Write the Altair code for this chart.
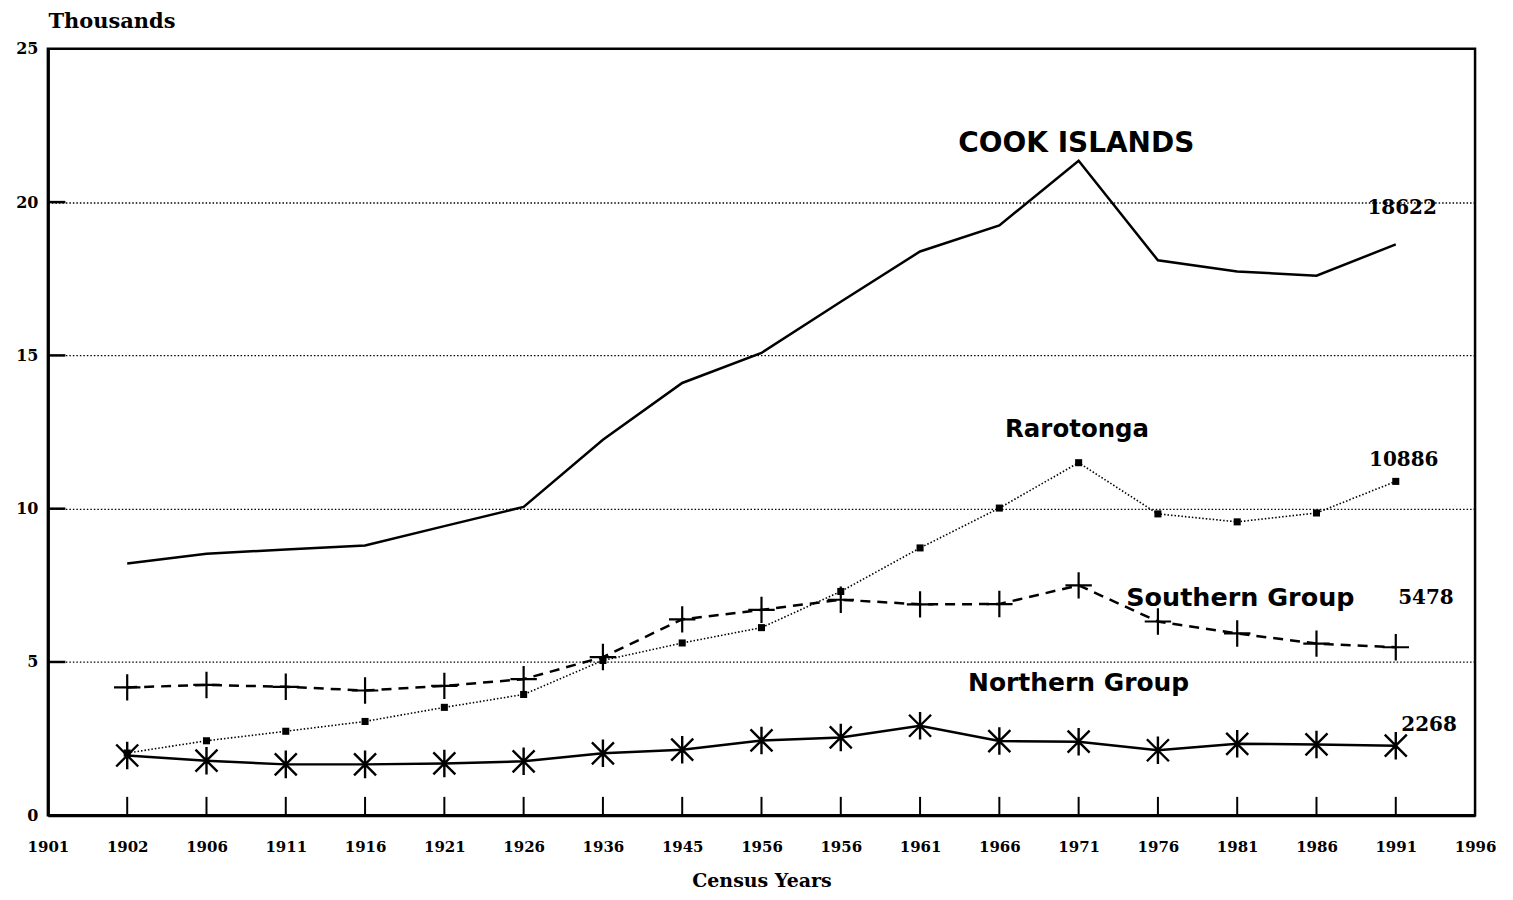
import altair as alt
import pandas as pd

# ---- data (thousands) ----
year_labels = ["1901", "1902", "1906", "1911", "1916", "1921", "1926", "1936", "1945",
               "1956", "1956", "1961", "1966", "1971", "1976", "1981", "1986", "1991", "1996"]
census_years = year_labels[1:18]

cook_islands = [8.21, 8.53, 8.67, 8.80, 9.43, 10.06, 12.25, 14.10, 15.08, 16.75,
                18.39, 19.24, 21.35, 18.10, 17.74, 17.60, 18.62]
rarotonga = [2.03, 2.43, 2.74, 3.06, 3.52, 3.94, 5.05, 5.62, 6.12, 7.30,
             8.72, 10.02, 11.50, 9.83, 9.57, 9.86, 10.89]
southern_group = [4.17, 4.25, 4.19, 4.07, 4.22, 4.44, 5.16, 6.39, 6.70, 7.03,
                  6.88, 6.89, 7.50, 6.32, 5.93, 5.60, 5.48]
northern_group = [1.95, 1.78, 1.66, 1.66, 1.69, 1.76, 2.02, 2.14, 2.44, 2.54,
                  2.92, 2.42, 2.40, 2.12, 2.33, 2.31, 2.27]

series_names = ["COOK ISLANDS", "Rarotonga", "Southern Group", "Northern Group"]
end_labels = ["18622", "10886", "5478", "2268"]
y_ticks = [5, 10, 15, 20]

# ---- tables ----
def frame(vals, name):
    return pd.DataFrame({"idx": list(range(1, 1 + len(vals))),
                         "year": census_years, "value": vals, "series": name})

df_cook = frame(cook_islands, series_names[0])
df_raro = frame(rarotonga, series_names[1])
df_south = frame(southern_group, series_names[2])
df_north = frame(northern_group, series_names[3])

label_array = "[" + ",".join("'" + y + "'" for y in year_labels) + "]"

X = alt.X("idx:Q", scale=alt.Scale(domain=[0, len(year_labels) - 1], nice=False, zero=False),
          axis=alt.Axis(values=list(range(len(year_labels))), labelExpr=label_array + "[datum.value]",
                        title="Census Years", ticks=False, grid=False, domainWidth=3,
                        domainColor="black", labelFont="DejaVu Serif", labelFontWeight="bold",
                        labelFontSize=15, labelColor="black", labelPadding=24,
                        titleFont="DejaVu Serif", titleFontWeight="bold", titleFontSize=19,
                        titleColor="black", titlePadding=17, labelFlush=False))
Y = alt.Y("value:Q", scale=alt.Scale(domain=[0, 25], nice=False),
          axis=alt.Axis(values=[0] + y_ticks + [25], ticks=False, grid=True, gridDash=[1.5, 2],
                        gridColor="black", gridWidth=1.3, gridOpacity=1, domainWidth=3,
                        domainColor="black", labelFont="DejaVu Serif", labelFontWeight="bold",
                        labelFontSize=16, labelColor="black", labelPadding=10,
                        title="Thousands", titleAngle=0, titleAlign="left", titleBaseline="middle",
                        titleX=0, titleY=-27, titleFont="DejaVu Serif", titleFontWeight="bold",
                        titleFontSize=21, titleColor="black"))

cook_line = alt.Chart(df_cook).mark_line(color="black", strokeWidth=2.5).encode(x=X, y=Y)

raro_line = alt.Chart(df_raro).mark_line(color="black", strokeWidth=1.6, strokeDash=[1.5, 2]).encode(
    x="idx:Q", y="value:Q")
raro_pts = alt.Chart(df_raro).mark_point(shape="square", filled=True, color="black", size=50, opacity=1).encode(
    x="idx:Q", y="value:Q")

south_line = alt.Chart(df_south).mark_line(color="black", strokeWidth=2.5, strokeDash=[10, 7]).encode(
    x="idx:Q", y="value:Q")
south_pts = alt.Chart(df_south).mark_point(shape="M-1,0L1,0M0,-1L0,1", filled=False, color="black",
                                           strokeWidth=2.2, size=700, opacity=1).encode(
    x="idx:Q", y="value:Q")

north_line = alt.Chart(df_north).mark_line(color="black", strokeWidth=2.5).encode(x="idx:Q", y="value:Q")
north_pts = alt.Chart(df_north).mark_point(
    shape="M0,-1L0,1M-0.8,-0.8L0.8,0.8M-0.8,0.8L0.8,-0.8", filled=False, color="black",
    strokeWidth=2.4, size=760, opacity=1).encode(x="idx:Q", y="value:Q")

# inward tick marks
xticks_df = pd.DataFrame({"idx": list(range(1, 1 + len(census_years)))})
x_ticks = alt.Chart(xticks_df).mark_rule(color="black", strokeWidth=2).encode(
    x="idx:Q", y=alt.datum(0), y2=alt.datum(0.6))
yticks_df = pd.DataFrame({"value": y_ticks})
y_tick_rules = alt.Chart(yticks_df).mark_rule(color="black", strokeWidth=2.5).encode(
    y="value:Q", x=alt.datum(0), x2=alt.datum(0.22))

# annotations
def name_text(txt, xi, yv, size):
    return alt.Chart().mark_text(text=txt, font="DejaVu Sans", fontWeight="bold", fontSize=size,
                                 color="black", align="center", baseline="middle").encode(
        x=alt.datum(xi), y=alt.datum(yv))

def num_text(txt, xi, yv):
    return alt.Chart().mark_text(text=txt, font="DejaVu Serif", fontWeight="bold", fontSize=20,
                                 color="black", align="center", baseline="middle").encode(
        x=alt.datum(xi), y=alt.datum(yv))

annotations = [
    name_text(series_names[0], 12.97, 21.9, 28),
    name_text(series_names[1], 12.98, 12.57, 24.5),
    name_text(series_names[2], 15.04, 7.1, 25.5),
    name_text(series_names[3], 13.0, 4.33, 25),
    num_text(end_labels[0], 17.08, 19.82),
    num_text(end_labels[1], 17.1, 11.59),
    num_text(end_labels[2], 17.38, 7.1),
    num_text(end_labels[3], 17.42, 2.96),
]

chart = alt.layer(
    cook_line, x_ticks, y_tick_rules, raro_line, raro_pts, south_line, south_pts,
    north_line, north_pts, *annotations
).properties(
    width=1430, height=768,
    autosize=alt.AutoSizeParams(type="none"),
    padding={"left": 40, "top": 40, "right": 30, "bottom": 76},
    background="white",
).configure_view(stroke="black", strokeWidth=2.5)

chart.save("out.html", embed_options={"renderer": "svg", "actions": False})
